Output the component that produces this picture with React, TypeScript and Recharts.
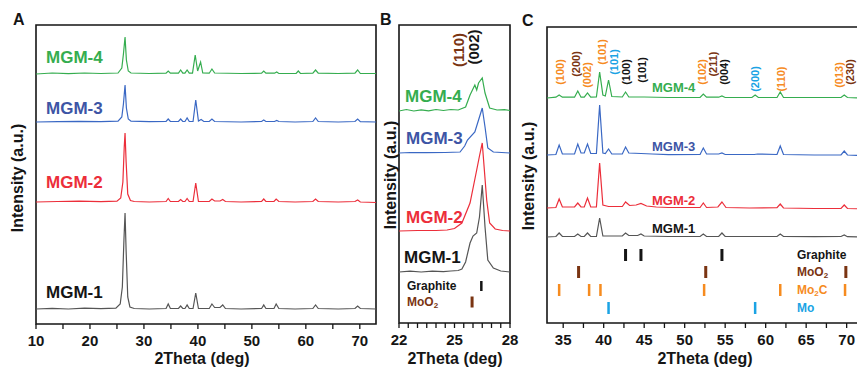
import React from 'react';
import { ComposedChart, Line, Scatter, XAxis, YAxis, ReferenceArea } from 'recharts';

type Pt = [number, number];

const FONT = '"Liberation Sans", Arial, sans-serif';
const GREEN = '#35ad4f';
const BLUE = '#3a68c4';
const BLUE_TXT = '#3d55a5';
const RED = '#ec2e3a';
const GRAY = '#555555';
const INK = '#151515';
const ORANGE = '#f68b1f';
const BROWN = '#7a3412';
const SKY = '#1ba3e4';

// ---- panel A: wide scan 10-73 deg (intensity above each trace's own baseline)
const aMgm1: Pt[] = [[10,0],[13,0.6],[16,0],[19,0.8],[22,0.3],[24.8,0.8],[25.6,5],[26.0,22],[26.3,70],[26.5,96],[26.7,58],[27.0,12],[27.4,2],[28.2,0.5],[31,0],[34.1,0.5],[34.5,5],[34.9,0.5],[36.4,0.5],[36.8,3],[37.2,0.5],[37.6,0.5],[38.0,4],[38.4,0.5],[39.1,0.5],[39.6,16],[40.1,0.5],[42.1,0.5],[42.6,5],[43.1,1.5],[44.1,1.5],[44.6,4],[45.1,0.5],[48,0],[51.8,0.5],[52.2,4],[52.6,0.5],[54.1,0.5],[54.5,5],[55.0,0.5],[58,0],[61.3,0.5],[61.8,4],[62.3,0.5],[66,0],[69.1,0.5],[69.6,3],[70.1,0.5],[73,0]];
const aMgm2: Pt[] = [[10,0],[14,0.5],[18,0.8],[22,0.3],[25.0,0.8],[25.7,4],[26.1,20],[26.35,55],[26.5,69],[26.7,40],[27.0,8],[27.5,1.5],[28.2,0.5],[31,0],[34.1,0.5],[34.5,3.5],[34.9,0.5],[36.4,0.5],[36.8,2.5],[37.2,0.5],[37.6,0.5],[38.0,3.5],[38.4,0.5],[39.1,0.5],[39.6,19],[40.1,0.5],[42.1,0.5],[42.6,3],[43.1,1],[44.1,1],[44.6,2.5],[45.1,0.5],[48,0],[51.8,0.5],[52.2,3],[52.6,0.5],[54.1,0.5],[54.5,3],[55.0,0.5],[58,0],[61.3,0.5],[61.8,3],[62.3,0.5],[66,0],[69.1,0.5],[69.6,2],[70.1,0],[73,-0.5]];
const aMgm3: Pt[] = [[10,0],[14,0.3],[18,0.6],[22,0.3],[25.2,0.8],[25.9,5],[26.2,18],[26.5,37],[26.75,14],[27.1,3],[27.6,0.8],[31,0.3],[34.1,0.5],[34.5,3],[34.9,0.5],[36.4,0.5],[36.8,3],[37.2,0.5],[37.6,0.5],[38.0,4],[38.4,0.5],[39.1,0.5],[39.6,22],[40.1,1],[40.6,2.5],[41.1,0.5],[42.1,0.5],[42.6,3],[43.1,0.5],[48,0],[51.8,0.5],[52.2,2],[52.6,0.5],[54.2,0.5],[54.6,1.5],[55,0.5],[58,0],[61.3,0.5],[61.8,4],[62.3,0.5],[66,0],[69.1,0.5],[69.6,3],[70.1,0.3],[73,0]];
const aMgm4: Pt[] = [[10,0],[13,1],[16,0.3],[19,1],[22,0.5],[25.2,1],[25.9,6],[26.2,20],[26.5,37],[26.75,14],[27.1,3],[27.6,1],[31,0.5],[34.1,0.8],[34.5,3],[34.9,0.8],[36.4,0.8],[36.8,4],[37.2,0.8],[37.6,0.8],[38.0,4],[38.4,0.8],[39.0,0.8],[39.5,19],[39.95,3],[40.5,12],[40.9,1],[42.1,0.8],[42.6,5],[43.1,1],[48,0.5],[51.8,0.8],[52.2,3],[52.6,0.8],[54.2,0.8],[54.6,2],[55,0.5],[58.2,0.5],[58.6,3],[59,0.5],[61.3,0.8],[61.8,4],[62.3,0.8],[66,0.5],[69.1,0.8],[69.6,4],[70.1,0.5],[73,0.5]];
const aOffsets = [15, 122, 202, 250];

// ---- panel B: 22-28 deg around graphite (002)
const bMgm1: Pt[] = [[22,0],[22.6,0.8],[23.2,0],[23.8,0.8],[24.4,0.3],[24.8,1],[25.2,1.5],[25.4,3],[25.6,10],[25.84,29],[26.0,36],[26.2,39],[26.35,55],[26.5,87],[26.65,45],[26.8,12],[27.1,4],[27.5,1],[28,0]];
const bMgm2: Pt[] = [[22,0],[23,0.5],[24,0.5],[24.6,1],[25.0,2.5],[25.4,8],[25.84,28],[26.2,61],[26.35,75],[26.5,88],[26.74,31],[26.9,8],[27.2,2],[27.6,0.5],[28,0]];
const bMgm3: Pt[] = [[22,0],[22.6,0.5],[23.5,0.3],[24.5,0.5],[25.3,1],[25.55,7],[25.7,13],[26.1,21],[26.3,33],[26.5,45],[26.65,26],[26.8,5],[27.1,1],[28,0]];
const bMgm4: Pt[] = [[22,0],[22.4,1.5],[22.8,0],[23.2,1.2],[23.6,0.2],[24.0,1.5],[24.4,0.5],[24.8,1.5],[25.2,1],[25.6,4],[25.84,16],[26.1,26],[26.2,21],[26.3,28],[26.5,33],[26.65,18],[26.9,3],[27.3,1],[27.7,1.3],[28,0.5]];
const bOffsets = [51, 92, 170, 212];

// ---- panel C: 33-71 deg
const cMgm1: Pt[] = [[33,0],[34.1,0.5],[34.5,4],[34.9,0.5],[36.4,0.5],[36.8,3],[37.2,0.5],[37.6,0.5],[38.0,4],[38.4,0.5],[39.1,0.5],[39.5,19],[39.9,1],[40.6,1],[42.3,1],[42.7,4],[43.1,1.5],[44.2,1.5],[44.6,3],[45.0,1],[48,0.5],[51.9,0.5],[52.3,3],[52.7,0.5],[54.2,0.5],[54.6,4],[55.0,0.5],[58,0.5],[61.4,0.5],[61.8,3],[62.2,0.5],[66,0.3],[69.3,0.5],[69.7,2],[70.1,0.3],[71.4,0]];
const cMgm2: Pt[] = [[33,0],[34.1,0.5],[34.5,9],[34.9,1],[36.4,1],[36.8,5],[37.2,1],[37.6,1],[38.0,10],[38.4,1],[39.1,1],[39.5,45],[39.9,3],[40.6,1.5],[42.3,1.5],[42.7,6],[43.2,2.5],[44.0,3],[44.6,4.5],[45.3,2],[46.5,1],[48,0.5],[51.9,0.5],[52.3,5],[52.7,0.5],[54.1,1],[54.6,6],[55.1,0.5],[58,0],[61.4,0.3],[61.8,4],[62.2,0],[66,-0.5],[69.3,-0.5],[69.7,3],[70.1,-0.5],[71.4,-0.8]];
const cMgm3: Pt[] = [[33,0],[34.1,0.5],[34.5,10],[34.9,1],[36.4,1],[36.8,11],[37.2,2],[37.6,2],[38.0,11],[38.4,1.5],[39.1,1.5],[39.5,50],[39.9,2],[40.2,1.5],[40.6,6],[41.0,1],[42.3,1],[42.7,8],[43.1,2],[44.6,1.5],[46,1],[48,0.3],[51.9,0.5],[52.3,7],[52.7,1],[54.2,1],[54.6,2],[55.0,0.5],[58.6,0.5],[59,1],[61.4,0.5],[61.8,9],[62.2,0.5],[66,0],[69.3,0],[69.7,4],[70.1,0],[71.4,-0.5]];
const cMgm4: Pt[] = [[33,0],[34.1,0.8],[34.5,3],[34.9,0.8],[36.4,0.8],[36.8,7],[37.2,0.8],[37.6,0.8],[38.0,5],[38.4,0.8],[39.1,1],[39.5,26],[39.9,3],[40.2,2],[40.6,18],[41.0,1.5],[42.3,1],[42.7,6],[43.1,1],[45,1],[48,0.5],[51.9,0.5],[52.3,4],[52.7,0.8],[54.2,0.8],[54.6,2],[55,0.5],[58.3,0.5],[58.7,3],[59.1,0.5],[61.4,0.5],[61.8,6],[62.2,0.5],[66,0.5],[69.3,0.5],[69.7,3],[70.1,0.5],[71.4,0]];
const cOffsets = [86, 115, 168, 225];

// reference patterns (2theta)
const graphiteC = [42.7, 44.6, 54.6];
const moo2C = [36.9, 52.6, 69.9];
const mo2cC = [34.5, 38.2, 39.6, 52.4, 61.8, 69.8];
const moC = [40.6, 58.7];
const graphiteB = [26.45];
const moo2B = [25.95];

// hkl labels: [2theta, height, text, colour]
const hklC: [number, number, string, string][] = [
  [34.6, 251, '(100)', ORANGE], [36.6, 259, '(200)', BROWN], [38.0, 248, '(002)', ORANGE],
  [39.8, 271, '(101)', ORANGE], [41.3, 261, '(101)', SKY], [42.75, 251, '(100)', INK],
  [44.7, 253, '(101)', INK], [52.1, 251, '(102)', ORANGE], [53.5, 259, '(211)', BROWN],
  [54.9, 251, '(004)', INK], [58.7, 244, '(200)', SKY], [61.9, 244, '(110)', ORANGE],
  [69.1, 248, '(013)', ORANGE], [70.4, 251, '(230)', BROWN],
];
const hklB: [number, number, string, string][] = [
  [25.19, 273, '(110)', BROWN], [26.0, 276, '(002)', INK],
];

const ticksA = [10, 15, 20, 25, 30, 35, 40, 45, 50, 55, 60, 65, 70];
const labelsA = [10, 20, 30, 40, 50, 60, 70];
const ticksB = [22, 22.5, 23, 23.5, 24, 24.5, 25, 25.5, 26, 26.5, 27, 27.5, 28];
const labelsB = [22, 25, 28];
const ticksC = [35, 37.5, 40, 42.5, 45, 47.5, 50, 52.5, 55, 57.5, 60, 62.5, 65, 67.5, 70];
const labelsC = [35, 40, 45, 50, 55, 60, 65, 70];

const traceColors = [GRAY, RED, BLUE, GREEN];

const rows = (pts: Pt[], off: number) => pts.map(([x, y]) => ({ x, y: y + off }));
const marks = (xs: number[], y: number) => xs.map((x) => ({ x, y }));
const hklRows = (list: [number, number, string, string][]) =>
  list.map(([x, y, label, color]) => ({ x, y, label, color }));

const tickShape = (color: string, w: number, h: number) => (p: any) =>
  <rect x={p.cx - w / 2} y={p.cy - h / 2} width={w} height={h} fill={color} />;

const hklShape = (size: number) => (p: any) => (
  <text x={p.cx} y={p.cy} transform={`rotate(-90 ${p.cx} ${p.cy})`} textAnchor="middle"
    dominantBaseline="central" fontSize={size} fontWeight={700} fontFamily={FONT} fill={p.payload.color}>
    {p.payload.label}
  </text>
);

const tickStyle = { fontSize: 15, fontWeight: 700, fill: INK, fontFamily: FONT };

function axis(domain: [number, number], ticks: number[], labels: number[], height: number) {
  return (
    <XAxis type="number" dataKey="x" domain={domain} ticks={ticks} allowDataOverflow height={height}
      tickFormatter={(v: number) => (labels.includes(v) ? String(v) : '')}
      axisLine={false} tickSize={5} tickMargin={6} tick={tickStyle}
      tickLine={{ stroke: INK, strokeWidth: 1.3 }} interval={0} />
  );
}

export default function App() {
  const aSets = [aMgm1, aMgm2, aMgm3, aMgm4];
  const bSets = [bMgm1, bMgm2, bMgm3, bMgm4];
  const cSets = [cMgm1, cMgm2, cMgm3, cMgm4];

  const sampleLabel = (x: number, y: number, text: string, color: string, size: number) => (
    <text x={x} y={y} dominantBaseline="central" fontSize={size} fontWeight={700} fill={color}>{text}</text>
  );

  return (
    <div style={{ position: 'absolute', left: 0, top: 0, width: 857, height: 369, overflow: 'hidden', background: '#fff', fontFamily: FONT }}>
      {/* A */}
      <div style={{ position: 'absolute', left: 0, top: 0 }}>
        <ComposedChart width={380} height={369} margin={{ top: 25, right: 4, left: 36, bottom: 0 }}>
          {axis([10, 73], ticksA, labelsA, 45)}
          <YAxis hide type="number" domain={[0, 299]} allowDataOverflow />
          {aSets.map((s, i) => (
            <Line key={i} data={rows(s, aOffsets[i])} dataKey="y" stroke={traceColors[i]} strokeWidth={1.2}
              dot={false} isAnimationActive={false} type="linear" />
          ))}
          <ReferenceArea x1={10} x2={73} y1={0} y2={299} fill="none" stroke={INK} strokeWidth={1.6} ifOverflow="visible" />
        </ComposedChart>
      </div>

      {/* B */}
      <div style={{ position: 'absolute', left: 380, top: 0 }}>
        <ComposedChart width={142} height={369} margin={{ top: 25, right: 12, left: 19, bottom: 0 }}>
          {axis([22, 28], ticksB, labelsB, 46)}
          <YAxis hide type="number" domain={[0, 298]} allowDataOverflow />
          {bSets.map((s, i) => (
            <Line key={i} data={rows(s, bOffsets[i])} dataKey="y" stroke={traceColors[i]} strokeWidth={1.2}
              dot={false} isAnimationActive={false} type="linear" />
          ))}
          <Scatter data={marks(graphiteB, 37)} dataKey="y" shape={tickShape(INK, 2.5, 10)} isAnimationActive={false} />
          <Scatter data={marks(moo2B, 21)} dataKey="y" shape={tickShape(BROWN, 3, 11)} isAnimationActive={false} />
          <Scatter data={hklRows(hklB)} dataKey="y" shape={hklShape(15)} isAnimationActive={false} />
          <ReferenceArea x1={22} x2={28} y1={0} y2={298} fill="none" stroke={INK} strokeWidth={1.6} ifOverflow="visible" />
        </ComposedChart>
      </div>

      {/* C */}
      <div style={{ position: 'absolute', left: 520, top: 0 }}>
        <ComposedChart width={340} height={369} margin={{ top: 27, right: 2, left: 27, bottom: 0 }}>
          {axis([33, 71.4], ticksC, labelsC, 46)}
          <YAxis hide type="number" domain={[0, 296]} allowDataOverflow />
          {cSets.map((s, i) => (
            <Line key={i} data={rows(s, cOffsets[i])} dataKey="y" stroke={traceColors[i]} strokeWidth={1.2}
              dot={false} isAnimationActive={false} type="linear" />
          ))}
          <Scatter data={marks(graphiteC, 68)} dataKey="y" shape={tickShape(INK, 3, 12)} isAnimationActive={false} />
          <Scatter data={marks(moo2C, 51)} dataKey="y" shape={tickShape(BROWN, 3, 12)} isAnimationActive={false} />
          <Scatter data={marks(mo2cC, 33)} dataKey="y" shape={tickShape(ORANGE, 2.5, 12)} isAnimationActive={false} />
          <Scatter data={marks(moC, 15)} dataKey="y" shape={tickShape(SKY, 2.5, 12)} isAnimationActive={false} />
          <Scatter data={hklRows(hklC)} dataKey="y" shape={hklShape(11)} isAnimationActive={false} />
          <ReferenceArea x1={33} x2={71.4} y1={0} y2={296} fill="none" stroke={INK} strokeWidth={1.6} ifOverflow="visible" />
        </ComposedChart>
      </div>

      {/* titles and annotations */}
      <svg width={857} height={369} style={{ position: 'absolute', left: 0, top: 0, pointerEvents: 'none' }} fontFamily={FONT}>
        <text x={13} y={25} fontSize={16} fontWeight={700} fill={INK}>A</text>
        <text x={380} y={25} fontSize={16} fontWeight={700} fill={INK}>B</text>
        <text x={522} y={26} fontSize={16} fontWeight={700} fill={INK}>C</text>

        {[[17, 178], [390, 175], [528, 176]].map(([x, y], i) => (
          <text key={i} x={x} y={y} transform={`rotate(-90 ${x} ${y})`} textAnchor="middle" dominantBaseline="central"
            fontSize={16} fontWeight={700} fill={INK}>Intensity (a.u.)</text>
        ))}
        {[202, 455, 705].map((x, i) => (
          <text key={i} x={x} y={364} textAnchor="middle" fontSize={16} fontWeight={700} fill={INK}>2Theta (deg)</text>
        ))}

        {sampleLabel(46, 57, 'MGM-4', GREEN, 17)}
        {sampleLabel(46, 108, 'MGM-3', BLUE_TXT, 17)}
        {sampleLabel(46, 182, 'MGM-2', RED, 17)}
        {sampleLabel(46, 292, 'MGM-1', INK, 17)}

        {sampleLabel(405, 96, 'MGM-4', GREEN, 17)}
        {sampleLabel(406, 138, 'MGM-3', BLUE_TXT, 17)}
        {sampleLabel(406, 217, 'MGM-2', RED, 17)}
        {sampleLabel(404, 257, 'MGM-1', INK, 17)}

        {sampleLabel(652, 87, 'MGM-4', GREEN, 13)}
        {sampleLabel(652, 146, 'MGM-3', BLUE_TXT, 13)}
        {sampleLabel(652, 200, 'MGM-2', RED, 13)}
        {sampleLabel(652, 228, 'MGM-1', INK, 13)}

        <text x={407} y={286} dominantBaseline="central" fontSize={12} fontWeight={700} fill={INK}>Graphite</text>
        <text x={407} y={302} dominantBaseline="central" fontSize={12} fontWeight={700} fill={BROWN}>MoO<tspan fontSize={8} dy={3}>2</tspan></text>

        <text x={797} y={255} dominantBaseline="central" fontSize={12} fontWeight={700} fill={INK}>Graphite</text>
        <text x={797} y={272} dominantBaseline="central" fontSize={12} fontWeight={700} fill={BROWN}>MoO<tspan fontSize={8} dy={3}>2</tspan></text>
        <text x={797} y={290} dominantBaseline="central" fontSize={12} fontWeight={700} fill={ORANGE}>Mo<tspan fontSize={8} dy={3}>2</tspan><tspan dy={-3}>C</tspan></text>
        <text x={797} y={308} dominantBaseline="central" fontSize={12} fontWeight={700} fill={SKY}>Mo</text>
      </svg>
    </div>
  );
}
